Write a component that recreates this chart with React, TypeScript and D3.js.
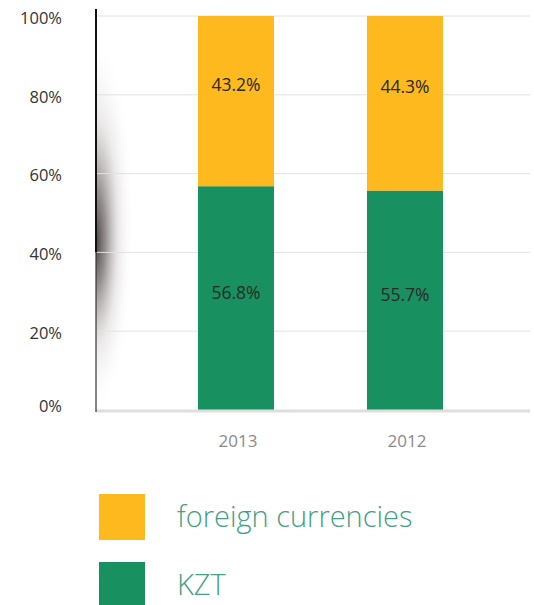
import React from "react";
import * as d3 from "d3";

const years = ["2013", "2012"];
const kzt = [56.8, 55.7];
const foreign = [43.2, 44.3];
const yTicks = [0, 20, 40, 60, 80, 100];
const seriesNames = ["foreign currencies", "KZT"];
const seriesColors = ["#FDB91E", "#19905F"];

const W = 534;
const H = 605;
const left = 96;
const right = 530;
const top = 16;
const bottom = 410;

export default function App() {
  const y = d3.scaleLinear().domain([0, 100]).range([bottom, top]);
  const x = d3.scaleBand().domain(years).range([113.5, 527.5]).paddingInner(0.55).paddingOuter(0.5);
  const stacked = d3.stack<any>().keys(["kzt", "foreign"])(
    years.map((yr, i) => ({ year: yr, kzt: kzt[i], foreign: foreign[i] }))
  );
  const colorFor: Record<string, string> = { kzt: seriesColors[1], foreign: seriesColors[0] };
  const font = "'Open Sans', 'Noto Sans', sans-serif";
  return (
    <svg width={W} height={H} style={{ position: "absolute", left: 0, top: 0 }}>
      <defs>
        <radialGradient id="shadow" cx="0.5" cy="0.5" r="0.5" fx="0.5" fy="0.55">
          <stop offset="0%" stopColor="#4a4242" stopOpacity={1} />
          <stop offset="25%" stopColor="#726a6a" stopOpacity={0.75} />
          <stop offset="60%" stopColor="#bbb5b5" stopOpacity={0.28} />
          <stop offset="100%" stopColor="#ffffff" stopOpacity={0} />
        </radialGradient>
        <clipPath id="clipR">
          <rect x={left} y={0} width={100} height={H} />
        </clipPath>
      </defs>
      <rect width={W} height={H} fill="#fff" />
      {/* decorative shadow */}
      <g clipPath="url(#clipR)">
        <ellipse cx={left} cy={224} rx={38} ry={192} fill="url(#shadow)" />
      </g>
      {/* gridlines */}
      {yTicks.filter((t) => t > 0).map((t) => (
        <line key={t} x1={left} x2={right} y1={y(t)} y2={y(t)} stroke="#e2e2e2" strokeWidth={1} />
      ))}
      {/* bars */}
      {stacked.map((s) =>
        s.map((d, i) => (
          <rect
            key={s.key + i}
            x={x(years[i])}
            width={x.bandwidth()}
            y={y(d[1])}
            height={y(d[0]) - y(d[1])}
            fill={colorFor[s.key]}
          />
        ))
      )}
      {/* value labels */}
      {stacked.map((s) =>
        s.map((d, i) => {
          const cy = (y(d[0]) + y(d[1])) / 2 + (s.key === "foreign" ? -16 : -5);
          return (
            <text
              key={"l" + s.key + i}
              x={(x(years[i]) as number) + x.bandwidth() / 2}
              y={cy}
              dy="0.35em"
              textAnchor="middle"
              fontFamily={font}
              fontSize={17.5}
              fill="#2a2a2a"
            >
              {(s.key === "kzt" ? kzt[i] : foreign[i]).toFixed(1)}%
            </text>
          );
        })
      )}
      {/* baseline */}
      <line x1={left} x2={right} y1={bottom + 1} y2={bottom + 1} stroke="#dedede" strokeWidth={3} />
      {/* y axis line */}
      <line x1={left} x2={left} y1={9} y2={y(40)} stroke="#111" strokeWidth={2} />
      <line x1={left} x2={left} y1={y(40)} y2={bottom + 2} stroke="#333" strokeWidth={1.2} />
      {/* y tick labels */}
      {yTicks.map((t) => (
        <text
          key={"t" + t}
          x={62}
          y={y(t) + (t === 0 ? -4 : 2)}
          dy="0.35em"
          textAnchor="end"
          fontFamily={font}
          fontSize={16.5}
          fill="#333"
        >
          {t}%
        </text>
      ))}
      {/* x labels */}
      {years.map((yr) => (
        <text
          key={"x" + yr}
          x={(x(yr) as number) + x.bandwidth() / 2 + 2}
          y={441}
          dy="0.35em"
          textAnchor="middle"
          fontFamily={font}
          fontSize={17}
          fill="#8a8a8a"
        >
          {yr}
        </text>
      ))}
      {/* legend */}
      {seriesNames.map((n, i) => (
        <g key={n} transform={`translate(99, ${494 + i * 68})`}>
          <rect width={46} height={46} fill={seriesColors[i]} />
          <text x={78} y={23} dy="0.35em" fontFamily={font} fontWeight={300} fontSize={29} fill="#45a084">
            {n}
          </text>
        </g>
      ))}
    </svg>
  );
}
